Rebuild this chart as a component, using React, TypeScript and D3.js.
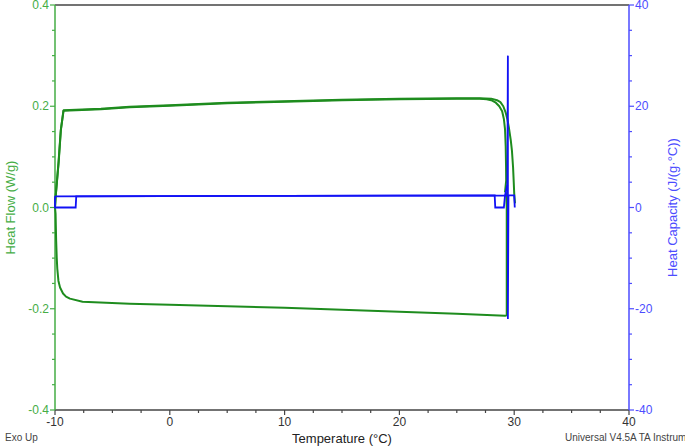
import React from "react";
import * as d3 from "d3";

const xTicks = [-10, 0, 10, 20, 30, 40];
const yLeftTicks = [0.4, 0.2, 0.0, -0.2, -0.4];
const yRightTicks = [40, 20, 0, -20, -40];

// Heat flow (W/g) – heating run 1 (inner)
const heatUpperA: [number, number][] = [
  [-10, 0], [-9.95, 0.02], [-9.7, 0.087], [-9.5, 0.152], [-9.27, 0.191], [-6, 0.194], [-3.5, 0.198],
  [0, 0.201], [5, 0.206], [10, 0.209], [15, 0.212], [20, 0.214], [25, 0.215], [27, 0.215],
  [27.6, 0.214], [28.0, 0.212], [28.4, 0.207], [28.7, 0.2], [28.95, 0.19], [29.1, 0.175],
  [29.2, 0.155], [29.26, 0.12], [29.29, 0.08], [29.3, 0.053], [29.2, 0.03],
];
// Heat flow – heating run 2 (outer)
const heatUpperB: [number, number][] = [
  [-10, 0], [-9.93, 0.025], [-9.68, 0.09], [-9.48, 0.155], [-9.25, 0.192], [-6, 0.195], [-3.5, 0.199],
  [0, 0.202], [5, 0.207], [10, 0.21], [15, 0.213], [20, 0.215], [25, 0.216], [27, 0.216],
  [28.0, 0.215], [28.5, 0.212], [28.8, 0.208], [29.05, 0.2], [29.25, 0.188], [29.4, 0.175],
  [29.55, 0.156], [29.7, 0.133], [29.8, 0.113], [29.9, 0.08], [29.96, 0.05], [30.0, 0.028],
  [30.07, 0.008],
];
// Heat flow – cooling
const heatLower: [number, number][] = [
  [-10, 0], [-9.95, -0.012], [-9.9, -0.065], [-9.85, -0.099], [-9.8, -0.121], [-9.7, -0.145],
  [-9.56, -0.158], [-9.3, -0.17], [-9.04, -0.176], [-8.7, -0.18], [-7.6, -0.186], [-3.5, -0.19],
  [0, -0.192], [5, -0.195], [10, -0.198], [15, -0.202], [20, -0.206], [25, -0.21], [29.2, -0.214],
  [29.35, -0.213], [29.35, 0.0], [29.3, 0.03],
];

// Heat capacity (J/(g·°C))
const cpA: [number, number][] = [
  [-10, 2.2], [-10, 0], [-8.2, 0], [-8.15, 2.2], [10, 2.3], [28.3, 2.4], [28.35, 0], [29.1, 0],
  [29.2, 2.4], [29.4, 4.5],
];
const cpB: [number, number][] = [
  [-10, 2.2], [10, 2.3], [29.4, 2.4], [29.45, 30], [29.45, -22], [29.5, 2.4], [30.0, 2.4], [30.05, 0],
];

const W = 685;
const H = 448;
const L = 55;
const R = 629;
const T = 5;
const B = 410;

const GREEN = "#1e8c1e";
const BLUE = "#1212f5";
const GREEN_AX = "#45ad45";
const BLUE_AX = "#4c4cff";
const FONT = "'Liberation Sans Narrow', 'Liberation Sans', Arial, sans-serif";

export default function App() {
  const x = d3.scaleLinear().domain([-10, 40]).range([L, R]);
  const yL = d3.scaleLinear().domain([-0.4, 0.4]).range([B, T]);
  const yR = d3.scaleLinear().domain([-40, 40]).range([B, T]);
  const lineL = d3.line<[number, number]>().x((d) => x(d[0])).y((d) => yL(d[1]));
  const lineR = d3.line<[number, number]>().x((d) => x(d[0])).y((d) => yR(d[1]));

  const xMinor = d3.range(-10, 40.01, 2.5);
  const yLMinor = d3.range(-0.4, 0.401, 0.05);
  const yRMinor = d3.range(-40, 40.01, 5);

  return (
    <svg width={W} height={H} style={{ position: "absolute", left: 0, top: 0, background: "#fff" }}>
      <line x1={L} x2={R} y1={T} y2={T} stroke="#444" strokeWidth={1.5} />
      <line x1={L} x2={R} y1={B} y2={B} stroke="#444" strokeWidth={1.5} />
      {xMinor.map((v, i) => (
        <line key={"xm" + i} x1={x(v)} x2={x(v)} y1={B} y2={B + (Math.abs(v % 10) < 1e-6 ? 5 : 3)} stroke="#444" strokeWidth={1.2} />
      ))}
      {xTicks.map((v) => (
        <text key={"xt" + v} x={x(v)} y={B + 16} textAnchor="middle" fontSize={12} fontFamily={FONT} fill="#333">
          {v}
        </text>
      ))}
      <line x1={L} x2={L} y1={T} y2={B} stroke={GREEN_AX} strokeWidth={1.5} />
      {yLMinor.map((v, i) => (
        <line key={"ylm" + i} x1={L} x2={L - (i % 4 === 0 ? 5 : 3)} y1={yL(v)} y2={yL(v)} stroke={GREEN_AX} strokeWidth={1.2} />
      ))}
      {yLeftTicks.map((v) => (
        <text key={"ylt" + v} x={L - 6} y={yL(v) + 4} textAnchor="end" fontSize={12} fontFamily={FONT} fill={GREEN_AX}>
          {v.toFixed(1)}
        </text>
      ))}
      <text transform={`translate(15,${(T + B) / 2}) rotate(-90)`} textAnchor="middle" fontSize={13} fontFamily={FONT} fill={GREEN_AX}>
        Heat Flow (W/g)
      </text>
      <line x1={R} x2={R} y1={T} y2={B} stroke={BLUE_AX} strokeWidth={1.5} />
      {yRMinor.map((v, i) => (
        <line key={"yrm" + i} x1={R} x2={R + (i % 4 === 0 ? 5 : 3)} y1={yR(v)} y2={yR(v)} stroke={BLUE_AX} strokeWidth={1.2} />
      ))}
      {yRightTicks.map((v) => (
        <text key={"yrt" + v} x={R + 6} y={yR(v) + 4} textAnchor="start" fontSize={12} fontFamily={FONT} fill={BLUE_AX}>
          {v}
        </text>
      ))}
      <text transform={`translate(677,${(T + B) / 2}) rotate(-90)`} textAnchor="middle" fontSize={13} fontFamily={FONT} fill={BLUE_AX}>
        Heat Capacity (J/(g·°C))
      </text>
      <path d={lineL(heatUpperA) || ""} fill="none" stroke={GREEN} strokeWidth={2} strokeLinejoin="round" />
      <path d={lineL(heatUpperB) || ""} fill="none" stroke={GREEN} strokeWidth={2} strokeLinejoin="round" />
      <path d={lineL(heatLower) || ""} fill="none" stroke={GREEN} strokeWidth={2} strokeLinejoin="round" />
      <path d={lineR(cpA) || ""} fill="none" stroke={BLUE} strokeWidth={1.8} />
      <path d={lineR(cpB) || ""} fill="none" stroke={BLUE} strokeWidth={1.8} />
      <text x={5} y={441} fontSize={10} fontFamily={FONT} fill="#444">Exo Up</text>
      <text x={(L + R) / 2} y={443} textAnchor="middle" fontSize={13} fontFamily={FONT} fill="#222">
        Temperature (°C)
      </text>
      <text x={565} y={441} fontSize={10} fontFamily={FONT} fill="#444">Universal V4.5A TA Instruments</text>
    </svg>
  );
}
